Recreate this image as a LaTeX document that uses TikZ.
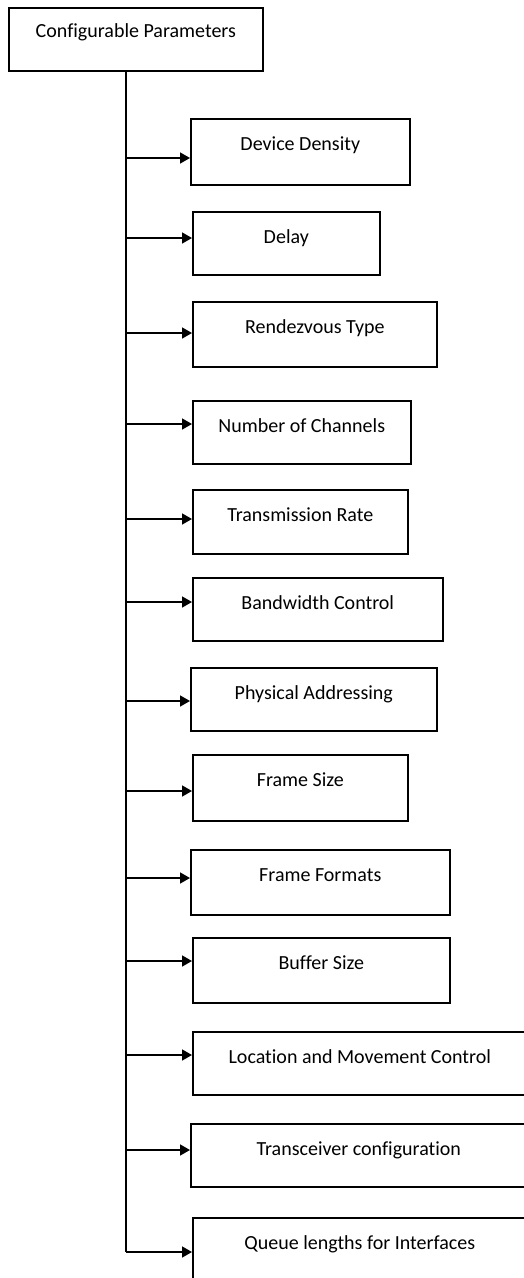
\documentclass[tikz,border=0pt]{standalone}
\usepackage{fontspec}
\setmainfont{Carlito}[Ligatures=NoCommon]
\usetikzlibrary{arrows.meta}
\begin{document}
\begin{tikzpicture}[x=1pt,y=1pt,
  every node/.style={font=\fontsize{20}{23}\selectfont},
  pbox/.style={draw, line width=1.6pt, rectangle, anchor=north west, inner xsep=0pt, inner ysep=0pt, align=center, text height=32pt},
  conn/.style={line width=1.6pt, -{Triangle[length=10pt,width=11pt]}},
  trunk/.style={line width=1.6pt}]
\useasboundingbox (0,0) rectangle (524,-1278);
\clip (0,0) rectangle (524,-1278);
\newcommand{\pbx}[6]{%
  \node[pbox, minimum width={#4-#2}, minimum height={#5-#3}, text depth={#5-#3-32}] (#1) at (#2,-#3) {#6};}
\node[pbox, minimum width=254pt, minimum height=63pt, text height=30pt, text depth=33pt] (top) at (8,-7) {Configurable Parameters};
\pbx{b1}{190}{118}{409}{184}{Device Density}
\pbx{b2}{192}{211}{379}{274}{Delay}
\pbx{b3}{192}{301}{436}{366}{Rendezvous Type}
\pbx{b4}{192}{400}{410}{463}{Number of Channels}
\pbx{b5}{192}{489}{407}{553}{Transmission Rate}
\pbx{b6}{192}{577}{442}{640}{Bandwidth Control}
\pbx{b7}{190}{667}{436}{730}{Physical Addressing}
\pbx{b8}{192}{754}{407}{820}{Frame Size}
\pbx{b9}{190}{849}{449}{914}{Frame Formats}
\pbx{b10}{192}{937}{449}{1002}{Buffer Size}
\pbx{b11}{192}{1031}{526}{1094}{Location and Movement Control}
\pbx{b12}{190}{1123}{526}{1186}{Transceiver configuration}
\pbx{b13}{192}{1217}{526}{1281}{Queue lengths for Interfaces}
\coordinate (tb) at (126,-70);
\coordinate (te) at (126,-1252);
\draw[trunk] (tb) -- (te);
\foreach \n/\y in {b1/158,b2/238,b3/333,b4/424,b5/519,b6/602,b7/701,b8/791,b9/878,b10/961,b11/1055,b12/1150,b13/1252}{
  \draw[conn] (126,-\y) -- (\n.west |- 0,-\y);
}
\end{tikzpicture}
\end{document}
